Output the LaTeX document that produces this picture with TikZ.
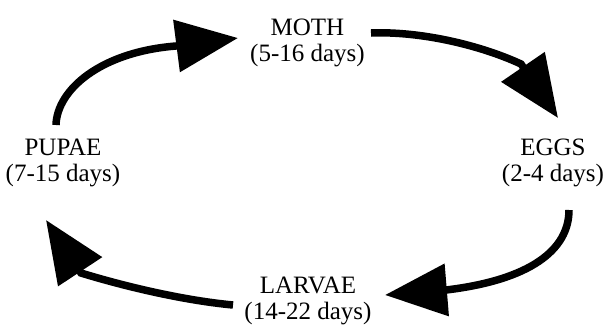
\documentclass[tikz,border=0pt]{standalone}
\usepackage{fontspec}
\setmainfont{Liberation Serif}
\usetikzlibrary{arrows.meta}
\tikzset{
  lbl/.style={align=center, inner sep=0pt, anchor=base, font=\fontsize{25}{26}\selectfont},
  cyc/.style={line width=7.5pt, -{Triangle[length=62pt,width=51pt]}}
}
\begin{document}
\begin{tikzpicture}[x=1pt,y=-1pt]
\useasboundingbox (0,0) rectangle (603,325);
\node[lbl] (moth) at (307.5,61.5) {MOTH\\(5-16 days)};
\node[lbl] (eggs) at (553,181) {EGGS\\(2-4 days)};
\node[lbl] (pupae) at (63,181) {PUPAE\\(7-15 days)};
\node[lbl] (larvae) at (308,319.5) {LARVAE\\(14-22 days)};
% arrow 1: pupae -> moth
\coordinate (a1s) at (56,125);
\coordinate (a1b) at (176,46);
\coordinate (a1t) at (238,38);
\draw[cyc] (a1s) .. controls (57,90) and (100,52) .. (a1b) -- (a1t);
% arrow 2: moth -> eggs
\coordinate (a2s) at (371,33);
\coordinate (a2b) at (521,64);
\coordinate (a2t) at (558,118);
\draw[cyc] (a2s) .. controls (420,31) and (480,45) .. (a2b) -- (a2t);
% arrow 3: eggs -> larvae
\coordinate (a3s) at (569,210);
\coordinate (a3b) at (446,290);
\coordinate (a3t) at (385,295);
\draw[cyc] (a3s) .. controls (569,250) and (530,280) .. (a3b) -- (a3t);
% arrow 4: larvae -> pupae
\coordinate (a4s) at (233,305);
\coordinate (a4b) at (81,273);
\coordinate (a4t) at (46,220);
\draw[cyc] (a4s) .. controls (180,300) and (120,285) .. (a4b) -- (a4t);
\end{tikzpicture}
\end{document}
